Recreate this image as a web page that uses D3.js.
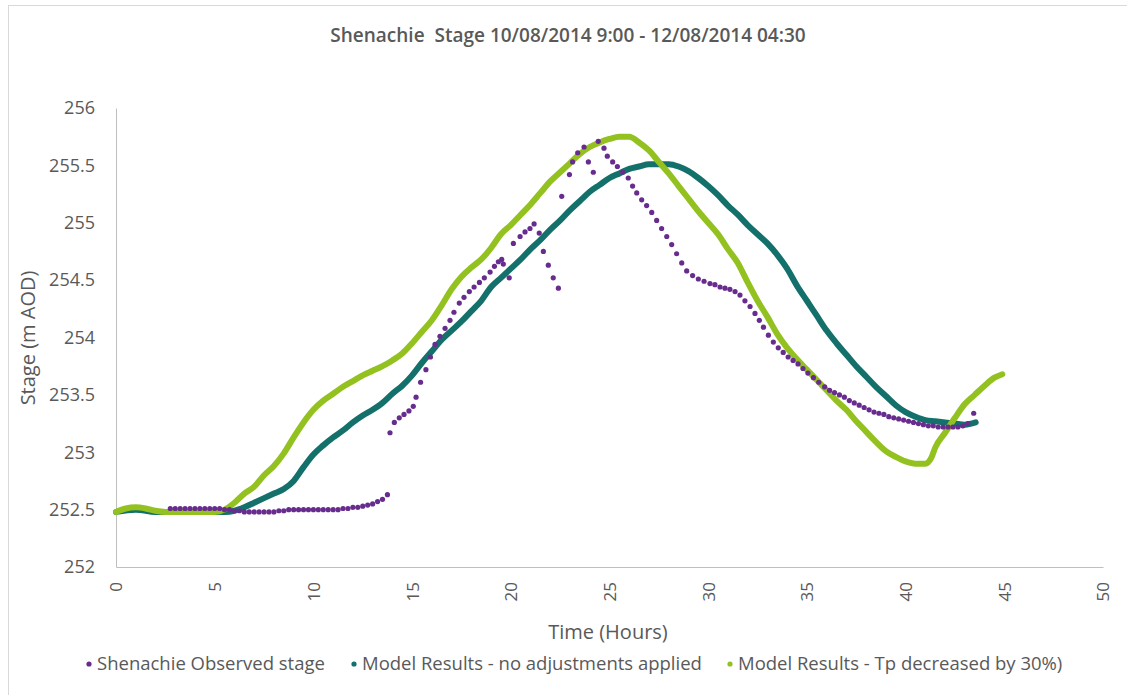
<!DOCTYPE html>
<html>
<head>
<meta charset="utf-8">
<script src="https://cdn.jsdelivr.net/npm/d3@7"></script>
<style>
  html, body { margin: 0; padding: 0; background: #fff; }
  svg { display: block; font-family: 'Open Sans', sans-serif; }
</style>
</head>
<body>
<div id="chart"></div>
<script>
// Observed stage (hours since 10/08/2014 9:00)
const obsHours = [
  2.75, 3, 3.25, 3.5, 3.75, 4, 4.25, 4.5, 4.75, 5, 5.25, 5.5, 5.75, 6, 6.25, 6.5, 6.75, 7, 7.25, 7.5, 7.75, 8,
  8.25, 8.5, 8.75, 9, 9.25, 9.5, 9.75, 10, 10.25, 10.5, 10.75, 11, 11.25, 11.5, 11.75, 12, 12.25, 12.5, 12.75,
  13, 13.25, 13.5, 13.75,
  13.88, 14.10, 14.35, 14.59, 14.84, 15.06, 15.20, 15.43, 15.70, 15.93, 16.16, 16.41, 16.67, 16.92, 17.12,
  17.39, 17.63, 17.90, 18.14, 18.41, 18.66, 18.95, 19.17, 19.37, 19.54, 19.62, 19.92,
  20.13, 20.47, 20.72, 20.97, 21.18, 21.44, 21.65, 21.90, 22.15, 22.41,
  22.58, 22.97, 23.13, 23.39, 23.71, 23.93, 24.18, 24.43, 24.72, 24.89, 25.16, 25.40, 25.67, 25.95, 26.17,
  26.38, 26.63, 26.88, 27.14, 27.39, 27.64, 27.90, 28.15, 28.40, 28.66, 28.91, 29.21, 29.50, 29.79, 30.09,
  30.34, 30.60, 30.85, 31.10, 31.36, 31.61, 31.86, 32.12, 32.37, 32.59, 32.80, 33.05, 33.30, 33.55, 33.80,
  34.05, 34.30, 34.55, 34.80, 35.05, 35.33, 35.60, 35.90, 36.15, 36.40, 36.65, 36.90, 37.15, 37.40, 37.65,
  37.90, 38.15, 38.40, 38.65, 38.90, 39.15, 39.40, 39.65, 39.90, 40.15, 40.40, 40.65, 40.90, 41.15, 41.40,
  41.65, 41.90, 42.15, 42.40, 42.65, 42.90, 43.15, 43.45
];
const obsStage = [
  252.51, 252.51, 252.51, 252.51, 252.51, 252.51, 252.51, 252.51, 252.51, 252.51, 252.51, 252.50, 252.50,
  252.49, 252.49, 252.48, 252.48, 252.48, 252.48, 252.48, 252.48, 252.48, 252.49, 252.49, 252.50, 252.50,
  252.50, 252.50, 252.50, 252.50, 252.50, 252.50, 252.50, 252.50, 252.50, 252.51, 252.51, 252.52, 252.52,
  252.53, 252.54, 252.55, 252.57, 252.59, 252.63,
  253.17, 253.26, 253.30, 253.33, 253.36, 253.40, 253.48, 253.61, 253.72, 253.83, 253.94, 254.01, 254.08,
  254.15, 254.22, 254.30, 254.35, 254.40, 254.44, 254.48, 254.52, 254.57, 254.62, 254.66, 254.68, 254.64, 254.52,
  254.82, 254.88, 254.92, 254.95, 254.99, 254.91, 254.75, 254.63, 254.52, 254.43,
  255.23, 255.42, 255.53, 255.61, 255.66, 255.53, 255.44, 255.71, 255.65, 255.58, 255.53, 255.49, 255.44,
  255.39, 255.32, 255.26, 255.20, 255.15, 255.09, 255.02, 254.95, 254.88, 254.81, 254.73, 254.65, 254.58,
  254.54, 254.51, 254.49, 254.47, 254.46, 254.44, 254.43, 254.42, 254.40, 254.37, 254.32, 254.27, 254.21,
  254.15, 254.09, 254.02, 253.96, 253.91, 253.87, 253.83, 253.80, 253.77, 253.73, 253.69, 253.65, 253.61,
  253.57, 253.54, 253.52, 253.50, 253.48, 253.45, 253.43, 253.41, 253.39, 253.37, 253.35, 253.34, 253.33,
  253.31, 253.30, 253.29, 253.28, 253.27, 253.26, 253.25, 253.24, 253.23, 253.23, 253.22, 253.22, 253.22,
  253.22, 253.22, 253.23, 253.25, 253.34
];

// Model results - no adjustments applied
const baseHours = [
  0, 1, 2, 3, 4, 5, 5.5, 6, 6.5, 7, 7.5, 8, 8.5, 9, 9.5, 10, 10.5, 11, 11.5, 12, 12.5, 13, 13.5, 14, 14.5,
  15, 15.5, 16, 16.5, 17, 17.5, 18, 18.5, 19, 19.5, 20, 20.5, 21, 21.5, 22, 22.5, 23, 23.5, 24, 24.5, 25,
  25.5, 26, 26.5, 27, 27.5, 28, 28.5, 29, 29.5, 30, 30.5, 31, 31.5, 32, 32.5, 33, 33.5, 34, 34.5, 35, 35.5,
  36, 36.5, 37, 37.5, 38, 38.5, 39, 39.5, 40, 40.5, 41, 41.5, 42, 42.5, 43, 43.55
];
const baseStage = [
  252.48, 252.50, 252.48, 252.48, 252.48, 252.48, 252.48, 252.49, 252.52, 252.56, 252.60, 252.64, 252.68,
  252.75, 252.87, 252.98, 253.06, 253.13, 253.19, 253.26, 253.32, 253.37, 253.43, 253.51, 253.58, 253.67,
  253.78, 253.88, 253.98, 254.06, 254.14, 254.23, 254.32, 254.44, 254.52, 254.60, 254.68, 254.77, 254.85,
  254.94, 255.02, 255.11, 255.19, 255.27, 255.33, 255.39, 255.43, 255.47, 255.49, 255.51, 255.51, 255.51,
  255.49, 255.45, 255.39, 255.32, 255.24, 255.15, 255.07, 254.98, 254.90, 254.82, 254.72, 254.60, 254.45,
  254.32, 254.19, 254.06, 253.95, 253.85, 253.75, 253.66, 253.57, 253.49, 253.41, 253.35, 253.31, 253.28,
  253.27, 253.26, 253.25, 253.24, 253.26
];

// Model results - Tp decreased by 30%
const tpHours = [
  0, 0.5, 1, 1.5, 2, 2.5, 3, 4, 5, 5.5, 6, 6.5, 7, 7.5, 8, 8.5, 9, 9.5, 10, 10.5, 11, 11.5, 12, 12.5, 13,
  13.5, 14, 14.5, 15, 15.5, 16, 16.5, 17, 17.5, 18, 18.5, 19, 19.5, 20, 20.5, 21, 21.5, 22, 22.5, 23, 23.5,
  24, 24.5, 25, 25.5, 26, 26.5, 27, 27.5, 28, 28.5, 29, 29.5, 30, 30.5, 31, 31.5, 32, 32.5, 33, 33.5, 34,
  34.5, 35, 35.5, 36, 36.5, 37, 37.5, 38, 38.5, 39, 39.5, 40, 40.5, 41, 41.3, 41.5, 42, 42.5, 43, 43.5, 44,
  44.5, 44.9
];
const tpStage = [
  252.48, 252.51, 252.52, 252.51, 252.49, 252.48, 252.48, 252.48, 252.48, 252.50, 252.56, 252.64, 252.70,
  252.80, 252.88, 252.99, 253.13, 253.26, 253.37, 253.45, 253.51, 253.57, 253.62, 253.67, 253.71, 253.75,
  253.80, 253.86, 253.95, 254.05, 254.15, 254.28, 254.42, 254.53, 254.61, 254.68, 254.78, 254.90, 254.98,
  255.07, 255.16, 255.26, 255.36, 255.44, 255.52, 255.60, 255.66, 255.70, 255.73, 255.75, 255.75, 255.70,
  255.63, 255.53, 255.43, 255.32, 255.21, 255.10, 255.00, 254.90, 254.77, 254.65, 254.48, 254.32, 254.18,
  254.03, 253.91, 253.81, 253.72, 253.63, 253.54, 253.45, 253.37, 253.27, 253.18, 253.09, 253.01, 252.96,
  252.92, 252.90, 252.90, 252.95, 253.04, 253.17, 253.30, 253.42, 253.50, 253.58, 253.65, 253.68
];

const xTicks = [0, 5, 10, 15, 20, 25, 30, 35, 40, 45, 50];
const yTicks = [252, 252.5, 253, 253.5, 254, 254.5, 255, 255.5, 256];

const seriesNames = ['Shenachie Observed stage', 'Model Results - no adjustments applied', 'Model Results - Tp decreased by 30%)'];
const colors = ['#672c8e', '#13706a', '#93c11f'];

const W = 1127, H = 695;
const svg = d3.select('#chart').append('svg').attr('width', W).attr('height', H);

// chart frame
svg.append('rect').attr('x', 8.5).attr('y', 5.5).attr('width', W).attr('height', H)
  .attr('fill', 'none').attr('stroke', '#d9d9d9');

const x = d3.scaleLinear().domain([0, 50]).range([116, 1103]);
const y = d3.scaleLinear().domain([252, 256]).range([567, 108]);

// title keeps the double space of the original
svg.append('text').attr('x', 568).attr('y', 42).attr('text-anchor', 'middle')
  .style('white-space', 'pre')
  .attr('fill', '#595959').attr('font-size', '19px').attr('font-weight', 600)
  .text('Shenachie  Stage 10/08/2014 9:00 - 12/08/2014 04:30');

// axes
svg.append('g').attr('transform', 'translate(116,0)')
  .call(d3.axisLeft(y).tickValues(yTicks).tickSize(0).tickPadding(21).tickFormat(d => d))
  .call(g => g.select('.domain').attr('stroke', '#bfbfbf'))
  .call(g => g.selectAll('.tick text').attr('fill', '#595959').attr('font-size', '18px').attr('font-family', 'Open Sans, sans-serif'));

svg.append('g').attr('transform', 'translate(0,567)')
  .call(d3.axisBottom(x).tickValues(xTicks).tickSize(0).tickFormat(d => d))
  .call(g => g.select('.domain').attr('stroke', '#bfbfbf'))
  .call(g => g.selectAll('.tick text')
    .attr('fill', '#595959').attr('font-size', '17px').attr('font-family', 'Open Sans, sans-serif')
    .attr('transform', 'rotate(-90)').attr('text-anchor', 'end')
    .attr('x', -15).attr('y', 0).attr('dy', '0.35em'));

svg.append('text').attr('x', 608).attr('y', 639).attr('text-anchor', 'middle')
  .attr('fill', '#595959').attr('font-size', '20px').text('Time (Hours)');

svg.append('text').attr('transform', 'translate(35,338) rotate(-90)').attr('text-anchor', 'middle')
  .attr('fill', '#595959').attr('font-size', '20px').text('Stage (m AOD)');

// model lines
const line = d3.line().x(d => x(d[0])).y(d => y(d[1])).curve(d3.curveMonotoneX);
const base = baseHours.map((h, i) => [h, baseStage[i]]);
const tp = tpHours.map((h, i) => [h, tpStage[i]]);

svg.append('path').datum(base).attr('d', line)
  .attr('fill', 'none').attr('stroke', colors[1]).attr('stroke-width', 6)
  .attr('stroke-linejoin', 'round').attr('stroke-linecap', 'round');
svg.append('path').datum(tp).attr('d', line)
  .attr('fill', 'none').attr('stroke', colors[2]).attr('stroke-width', 6)
  .attr('stroke-linejoin', 'round').attr('stroke-linecap', 'round');

// observed dots
const obs = obsHours.map((h, i) => [h, obsStage[i]]);
svg.append('g').selectAll('circle').data(obs).join('circle')
  .attr('cx', d => x(d[0])).attr('cy', d => y(d[1])).attr('r', 2.6)
  .attr('fill', colors[0]);

// legend
const legendX = [89, 354, 730];
const lg = svg.append('g').selectAll('g').data(seriesNames).join('g')
  .attr('transform', (d, i) => `translate(${legendX[i]},664)`);
lg.append('circle').attr('r', 2.6).attr('fill', (d, i) => colors[i]);
lg.append('text').attr('x', 8).attr('dy', '0.35em')
  .attr('fill', '#595959').attr('font-size', '18.5px').text(d => d);
</script>
</body>
</html>
